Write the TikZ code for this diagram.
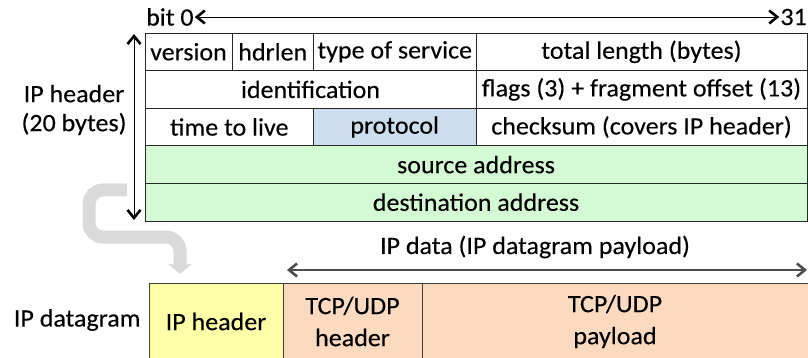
\documentclass[tikz,border=0pt]{standalone}
\usepackage{fontspec}
\setmainfont{Carlito}[FakeStretch=1.04,FakeBold=0.2]
\usepackage{tikz}
\usetikzlibrary{arrows.meta}
\usetikzlibrary{positioning}
\definecolor{srcgreen}{RGB}{212,250,212}
\definecolor{protoblue}{RGB}{204,222,240}
\definecolor{hdryellow}{RGB}{255,255,168}
\definecolor{tcppeach}{RGB}{252,218,192}
\definecolor{bendgray}{RGB}{218,218,218}
\tikzset{
  % one field of the header, one row high
  field/.style={draw=black!85,line width=.9pt,minimum height=37.6pt,
    inner sep=0pt,outer sep=0pt},
  % boxes of the datagram
  part/.style={draw=black!75,line width=1pt,minimum height=77pt,
    inner sep=0pt,outer sep=0pt,align=center,
    font=\fontsize{25}{32}\selectfont},
  barb/.tip={Straight Barb[length=8pt,width=13pt,line width=2.6pt]},
  spanarrow/.style={barb-barb,line width=.9pt},
  bendarrow/.style={bendgray,line width=13pt,rounded corners=14pt,
    -{Triangle[length=10pt,width=23pt]}},
}
\begin{document}
\begin{tikzpicture}[x=1pt,y=-1pt,font=\fontsize{25}{29}\selectfont]
  \useasboundingbox (0,0) rectangle (808,358);
  \clip (0,0) rectangle (808,358);
  % bit numbering
  \node[anchor=west,inner sep=1pt] (bit0) at (145,17) {bit 0};
  \node[anchor=east,inner sep=1pt] (bit31) at (808,17) {31};
  \draw[spanarrow] (bit0) -- (bit31);
  % header rows
  \node[field,minimum width=87pt] (version) at (188.5,51.8) {version};
  \node[field,minimum width=81.5pt] (hdrlen) at (272.75,51.8) {hdrlen};
  \node[field,minimum width=162.5pt] (tos) at (394.75,51.8) {type of service};
  \node[field,minimum width=331pt] (totlen) at (641.5,51.8) {total length (bytes)};
  \node[field,minimum width=331pt] (ident) at (310.5,89.4) {identification};
  \node[field,minimum width=331pt] (flags) at (641.5,89.4) {flags (3) + fragment offset (13)};
  \node[field,minimum width=168.5pt] (ttl) at (229.25,127) {time to live};
  \node[field,fill=protoblue,minimum width=162.5pt] (proto) at (394.75,127) {protocol};
  \node[field,minimum width=331pt] (checksum) at (641.5,127) {checksum (covers IP header)};
  \node[field,fill=srcgreen,minimum width=662pt] (src) at (476,164.6) {source address};
  \node[field,fill=srcgreen,minimum width=662pt] (dst) at (476,202.2) {destination address};
  % header size
  \coordinate (hdrtop) at (134,34);
  \coordinate (hdrbot) at (134,220);
  \draw[spanarrow] (hdrtop) -- (hdrbot);
  \node[align=center] (hdrlbl) at (74,110) {IP header\\(20 bytes)};
  % header goes to the front of the datagram
  \coordinate (bendstart) at (127,190);
  \coordinate (bendend) at (180,274);
  \draw[bendarrow] (bendstart) -| (89,237) -| (bendend);
  % datagram
  \node[part,fill=hdryellow,minimum width=134pt] (iphdr) at (216,321.5) {IP header};
  \node[part,fill=tcppeach,minimum width=139pt] (tcphdr) at (352.5,321.5) {TCP/UDP\\header};
  \node[part,fill=tcppeach,minimum width=386pt] (payload) at (615,321.5) {TCP/UDP\\payload};
  \node[anchor=east] (dgramlbl) at (144,320) {IP datagram};
  % payload span
  \coordinate (datal) at (287,270);
  \coordinate (datar) at (807,270);
  \draw[spanarrow,draw=black!70,line width=1.1pt] (datal) -- (datar);
  \node (datalbl) at (535,247) {IP data (IP datagram payload)};
\end{tikzpicture}
\end{document}
